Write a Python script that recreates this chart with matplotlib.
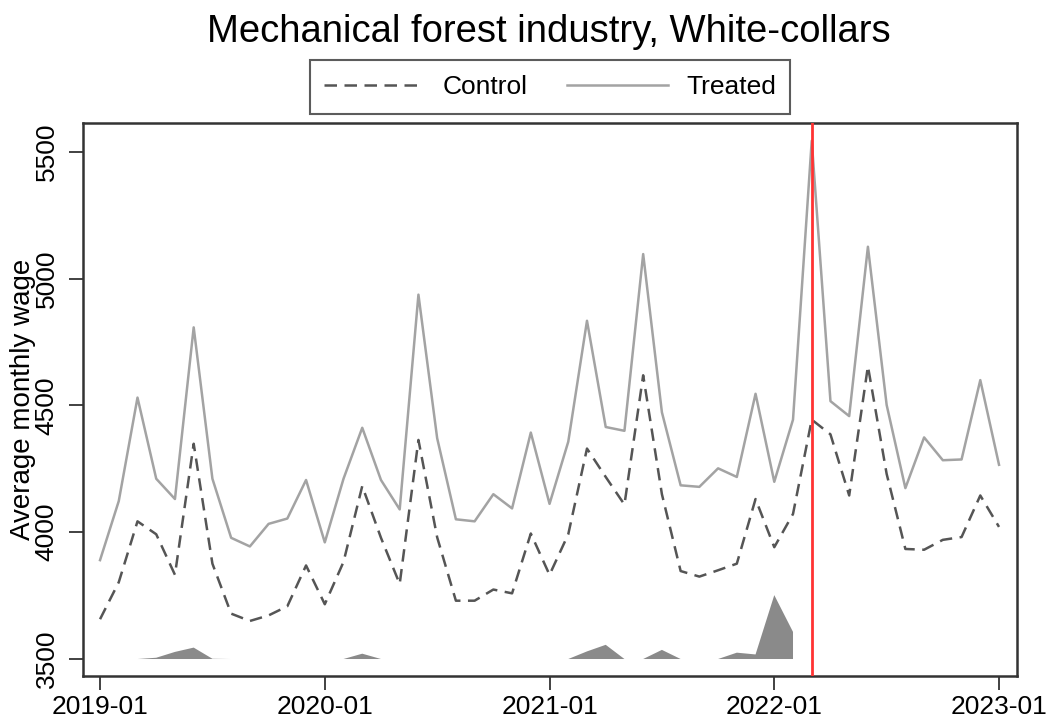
import numpy as np
import matplotlib
matplotlib.use("Agg")
import matplotlib.pyplot as plt

plt.rcParams['font.family'] = ['Liberation Sans', 'DejaVu Sans']

# ---- data -------------------------------------------------------------
tick_labels = ["2019-01", "2020-01", "2021-01", "2022-01", "2023-01"]
tick_months = [0, 12, 24, 36, 48]
treatment_month = 38  # 2022-03

treated = [3890, 4123, 4531, 4211, 4131, 4808, 4211, 3978, 3944, 4033, 4054, 4206,
           3960, 4211, 4412, 4206, 4090, 4937, 4371, 4051, 4043, 4150, 4094, 4393,
           4112, 4357, 4834, 4415, 4400, 5097, 4473, 4185, 4179, 4252, 4218, 4546,
           4199, 4444, 5544, 4517, 4458, 5126, 4502, 4174, 4374, 4284, 4287, 4600, 4266]

control = [3657, 3803, 4043, 3992, 3832, 4349, 3876, 3679, 3650, 3672, 3708, 3869,
           3716, 3883, 4182, 3978, 3796, 4364, 3980, 3730, 3730, 3774, 3759, 3995,
           3832, 3992, 4330, 4218, 4109, 4619, 4150, 3847, 3825, 3850, 3876, 4131,
           3941, 4072, 4444, 4386, 4145, 4655, 4230, 3934, 3931, 3970, 3981, 4145, 4021]

nan = np.nan
shade = [nan, nan, 3500, 3505, 3528, 3545, 3501, 3500, nan, nan, nan, nan,
         nan, 3500, 3521, 3500, nan, nan, nan, nan, nan, nan, nan, nan,
         nan, 3500, 3530, 3556, 3500, 3500, 3536, 3500, nan, 3500, 3525, 3518,
         3752, 3607, nan, nan, nan, nan, nan, nan, nan, nan, nan, nan, nan]
shade_base = 3500

# ---- plot -------------------------------------------------------------
W, H = 1062, 726
fig = plt.figure(figsize=(W / 100, H / 100), dpi=100)
ax = fig.add_axes([83 / W, 1 - 676 / H, (1017 - 83) / W, (676 - 123) / H])

x = np.arange(len(treated))
shade_arr = np.array(shade, dtype=float)
ax.fill_between(x, shade_base, shade_arr, where=~np.isnan(shade_arr),
                facecolor='#8a8a8a', edgecolor='none', linewidth=0, zorder=1)

l1, = ax.plot(x, control, color='#555555', lw=1.8, linestyle=(0, (5, 3)),
              label='Control', zorder=3)
l2, = ax.plot(x, treated, color='#a3a3a3', lw=1.8, label='Treated', zorder=2)

ax.axvline(treatment_month, color='#ff3333', lw=2.0, zorder=4)

ax.set_xlim(-0.91, 48.96)
ax.set_ylim(3433, 5614)
ax.set_xticks(tick_months)
ax.set_xticklabels(tick_labels)
ax.set_yticks([3500, 4000, 4500, 5000, 5500])
ax.set_yticklabels(['3500', '4000', '4500', '5000', '5500'], rotation=90, va='center')

ax.tick_params(axis='both', direction='out', length=10, width=1.3, color='#333333',
               labelsize=19)
ax.tick_params(axis='x', pad=4)
ax.tick_params(axis='y', pad=7.5)
for s in ax.spines.values():
    s.set_color('#333333')
    s.set_linewidth(1.8)

fig.text(23 / W, 1 - 399.5 / H, 'Average monthly wage', rotation=90,
         ha='center', va='center', fontsize=20)
fig.text(548.5 / W, 1 - 32 / H, 'Mechanical forest industry, White-collars',
         ha='center', va='center', fontsize=27.5)

leg = fig.legend(handles=[l1, l2], loc='center', bbox_to_anchor=(550 / W, 1 - 87 / H),
                 ncol=2, fontsize=19, frameon=True, fancybox=False,
                 handlelength=3.8, handletextpad=0.7, columnspacing=1.5,
                 borderpad=0.55, borderaxespad=0)
leg.get_frame().set_edgecolor('#333333')
leg.get_frame().set_linewidth(1.5)

fig.savefig('out.png', dpi=100)
